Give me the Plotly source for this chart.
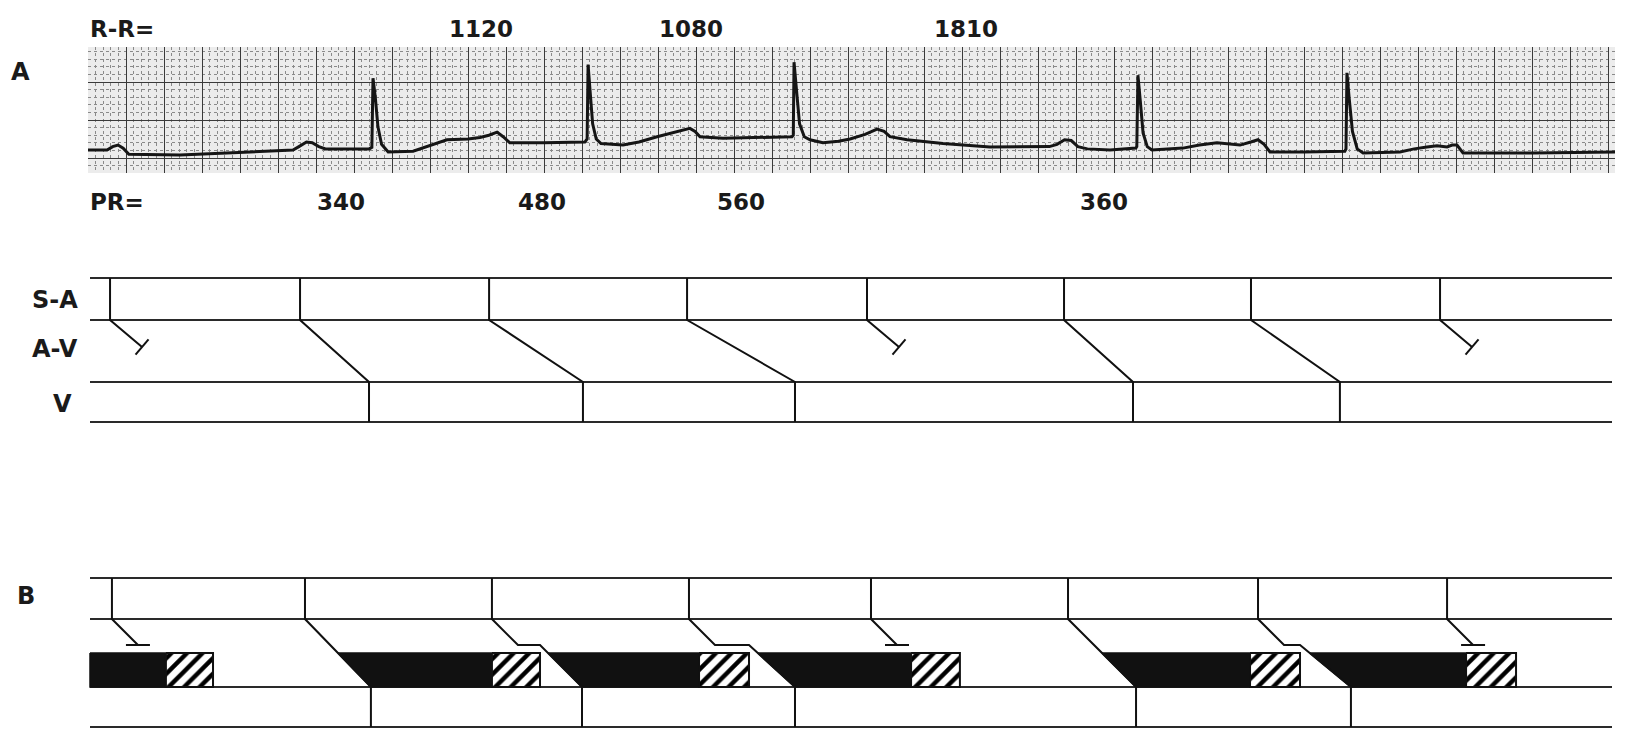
import plotly.graph_objects as go

# ---------------- data ----------------
# ECG strip: time in ms from strip start, amplitude in mV
ECG_T = [0, 100, 130, 158, 185, 215, 484, 800, 1079,
         1110, 1150, 1180, 1215, 1250, 1480,
         1494, 1500, 1512, 1526, 1545, 1580, 1711, 1800, 1889, 2000, 2063, 2110, 2153, 2185, 2220, 2400, 2615,
         2627, 2632, 2642, 2656, 2675, 2700, 2816, 2900, 2995, 3079, 3130, 3168, 3195, 3221, 3342, 3550, 3705,
         3712, 3716, 3728, 3745, 3770, 3800, 3868, 3950, 4011, 4090, 4153, 4190, 4221, 4311, 4500, 4747, 5060,
         5100, 5140, 5175, 5210, 5260, 5379, 5515,
         5520, 5526, 5538, 5553, 5575, 5600, 5763, 5850, 5942, 6000, 6063, 6120, 6158, 6190, 6221, 6400, 6615,
         6621, 6626, 6638, 6655, 6680, 6711, 6905, 6980, 7047, 7100, 7153, 7180, 7205, 7237, 7605, 8037]
ECG_MV = [0.105, 0.105, 0.15, 0.17, 0.13, 0.05, 0.04, 0.07, 0.105,
          0.15, 0.21, 0.20, 0.15, 0.12, 0.12,
          0.14, 1.05, 0.80, 0.41, 0.18, 0.08, 0.09, 0.17, 0.24, 0.25, 0.27, 0.30, 0.34, 0.28, 0.20, 0.20, 0.21,
          0.25, 1.23, 0.90, 0.45, 0.25, 0.19, 0.17, 0.21, 0.28, 0.33, 0.37, 0.39, 0.35, 0.28, 0.26, 0.27, 0.28,
          0.30, 1.26, 0.92, 0.45, 0.28, 0.24, 0.20, 0.22, 0.25, 0.31, 0.38, 0.35, 0.28, 0.24, 0.19, 0.145, 0.15,
          0.18, 0.24, 0.23, 0.15, 0.12, 0.105, 0.13,
          0.15, 1.09, 0.76, 0.33, 0.15, 0.105, 0.13, 0.17, 0.20, 0.19, 0.17, 0.21, 0.24, 0.18, 0.08, 0.08, 0.09,
          0.12, 1.12, 0.78, 0.35, 0.12, 0.066, 0.08, 0.12, 0.145, 0.16, 0.145, 0.17, 0.17, 0.066, 0.066, 0.08]

R_PEAKS_MS = [1500, 2632, 3716, 5526, 6626]
RR_LABELS = ["1120", "1080", "1810"]
PR_LABELS = ["340", "480", "560", "360"]
PR_MS = [340, 480, 560, 360]
PR_BEAT = [0, 1, 2, 3]          # which R peak each PR label belongs to

# Ladder A: sinus impulses and ventricular activation times (ms); None = blocked
SA_A = [116, 1116, 2111, 3153, 4100, 5137, 6121, 7116]
V_A = [None, 1479, 2605, 3721, None, 5500, 6589, None]

# Ladder B
SA_B = [126, 1142, 2126, 3163, 4121, 5158, 6158, 7153]
V_B = [None, 1489, 2600, 3721, None, 5516, 6647, None]
MODE_B = ["blocked", "direct", "delayed", "delayed", "blocked", "direct", "delayed", "blocked"]
ERP_END_B = [410, 2126, 3216, 4332, 6116, 7253]   # end of black (absolute refractory) bars
RRP_END_B = [658, 2379, 3479, 4589, 6379, 7516]   # end of hatched (relative refractory) bars

# ---------------- layout constants ----------------
W, H = 1628, 732
PX_PER_MS = 0.19
X0_PX = 88
MS_PER_PX = 1 / PX_PER_MS

LINE_T0 = (90 - X0_PX) * MS_PER_PX
LINE_T1 = (1612 - X0_PX) * MS_PER_PX

A_TOP, A_ATR, A_VEN, A_BOT = 278, 320, 382, 422
B_TOP, B_ATR, B_STEP, B_BLK, B_VEN, B_BOT = 578, 619, 645, 653, 687, 727

FONT = "DejaVu Sans"

fig = go.Figure()

# ---- ECG strip ----
fig.add_trace(go.Scatter(x=ECG_T, y=ECG_MV, mode="lines", xaxis="x2", yaxis="y2",
                         line=dict(color="#151515", width=3), hoverinfo="skip"))

# ---- ladder horizontal lines ----
hx, hy = [], []
for y in [A_TOP, A_ATR, A_VEN, A_BOT, B_TOP, B_ATR, B_VEN, B_BOT]:
    hx += [LINE_T0, LINE_T1, None]
    hy += [y, y, None]
fig.add_trace(go.Scatter(x=hx, y=hy, mode="lines", line=dict(color="#2a2a2a", width=2.2),
                         hoverinfo="skip"))

# ---- ladder B refractory bars ----
conducted = [i for i, v in enumerate(V_B) if v is not None]


def path_start_B(i):
    """Start point of the last (oblique) segment of the conduction path of impulse i."""
    if MODE_B[i] == "delayed":
        prev_end = max(r for r in RRP_END_B if r < V_B[i])
        return prev_end, B_STEP
    return SA_B[i], B_ATR


bx, by, sx, sy = [], [], [], []
for k in range(len(ERP_END_B)):
    if k == 0:
        left_top = left_bot = LINE_T0
    else:
        i = conducted[k - 1]
        t0, y0 = path_start_B(i)
        v = V_B[i]
        left_top = t0 + (v - t0) * (B_BLK - y0) / (B_VEN - y0)
        left_bot = v
    e, r = ERP_END_B[k], RRP_END_B[k]
    bx += [left_top, e, e, left_bot, left_top, None]
    by += [B_BLK, B_BLK, B_VEN, B_VEN, B_BLK, None]
    sx += [e, r, r, e, e, None]
    sy += [B_BLK, B_BLK, B_VEN, B_VEN, B_BLK, None]

fig.add_trace(go.Scatter(x=bx, y=by, mode="lines", fill="toself", fillcolor="#111111",
                         line=dict(color="#111111", width=1.5), hoverinfo="skip"))
fig.add_trace(go.Scatter(x=sx, y=sy, mode="lines", fill="toself", fillcolor="white",
                         fillpattern=dict(shape="/", fgcolor="#000000", bgcolor="white",
                                          fgopacity=1, size=11, solidity=0.4),
                         line=dict(color="#111111", width=2), hoverinfo="skip"))

# ---- conduction lines ----
cx, cy = [], []
# ladder A
A_BLOCK_DX = 32 * MS_PER_PX
A_BLOCK_Y = 347
A_BAR_DX, A_BAR_DY = 6.5 * MS_PER_PX, 7.6
for s, v in zip(SA_A, V_A):
    if v is not None:
        cx += [s, s, v, v, None]
        cy += [A_TOP, A_ATR, A_VEN, A_BOT, None]
    else:
        e = s + A_BLOCK_DX
        cx += [s, s, e, None, e - A_BAR_DX, e + A_BAR_DX, None]
        cy += [A_TOP, A_ATR, A_BLOCK_Y, None, A_BLOCK_Y + A_BAR_DY, A_BLOCK_Y - A_BAR_DY, None]

# ladder B
B_DIAG_DX = (B_STEP - B_ATR) * MS_PER_PX
B_BAR_HALF = 12 * MS_PER_PX
for i, s in enumerate(SA_B):
    mode = MODE_B[i]
    if mode == "blocked":
        e = s + B_DIAG_DX
        cx += [s, s, e, None, e - B_BAR_HALF, e + B_BAR_HALF, None]
        cy += [B_TOP, B_ATR, B_STEP, None, B_STEP, B_STEP, None]
    elif mode == "direct":
        v = V_B[i]
        cx += [s, s, v, v, None]
        cy += [B_TOP, B_ATR, B_VEN, B_BOT, None]
    else:
        v = V_B[i]
        t0, _ = path_start_B(i)
        cx += [s, s, s + B_DIAG_DX, t0, v, v, None]
        cy += [B_TOP, B_ATR, B_STEP, B_STEP, B_VEN, B_BOT, None]

fig.add_trace(go.Scatter(x=cx, y=cy, mode="lines", line=dict(color="#111111", width=2),
                         hoverinfo="skip"))

# ---- text ----
ann = []
lab_font = dict(family=FONT, size=23, color="#1a1a1a", weight="bold")
ann.append(dict(x=0, y=29, xref="x", yref="y", text="R-R=", showarrow=False,
                xanchor="left", yanchor="middle", font=lab_font))
for j, txt in enumerate(RR_LABELS):
    xm = (R_PEAKS_MS[j] + R_PEAKS_MS[j + 1]) / 2
    ann.append(dict(x=xm, y=29, xref="x", yref="y", text=txt, showarrow=False,
                    xanchor="center", yanchor="middle", font=lab_font))
ann.append(dict(x=0, y=202, xref="x", yref="y", text="PR=", showarrow=False,
                xanchor="left", yanchor="middle", font=lab_font))
for txt, pr, b in zip(PR_LABELS, PR_MS, PR_BEAT):
    xm = R_PEAKS_MS[b] - pr / 2
    ann.append(dict(x=xm, y=202, xref="x", yref="y", text=txt, showarrow=False,
                    xanchor="center", yanchor="middle", font=lab_font))

big_font = dict(family=FONT, size=24, color="#1a1a1a", weight="bold")
ann.append(dict(x=20 / W, y=72, xref="paper", yref="y", text="A", showarrow=False,
                xanchor="center", yanchor="middle", font=big_font))
ann.append(dict(x=26 / W, y=596, xref="paper", yref="y", text="B", showarrow=False,
                xanchor="center", yanchor="middle", font=big_font))
ann.append(dict(x=80 / W, y=300, xref="paper", yref="y", text="S-A", showarrow=False,
                xanchor="right", yanchor="middle", font=big_font))
ann.append(dict(x=80 / W, y=349, xref="paper", yref="y", text="A-V", showarrow=False,
                xanchor="right", yanchor="middle", font=big_font))
ann.append(dict(x=74 / W, y=404, xref="paper", yref="y", text="V", showarrow=False,
                xanchor="right", yanchor="middle", font=big_font))

# ---- axes ----
ecg_x0, ecg_x1 = 88, 1615
ecg_ytop, ecg_ybot = 47, 173
MV_ZERO_PX, PX_PER_MV = 158, 76

fig.update_layout(
    width=W, height=H, autosize=False,
    margin=dict(l=0, r=0, t=0, b=0),
    paper_bgcolor="white", plot_bgcolor="rgba(0,0,0,0)",
    showlegend=False,
    annotations=ann,
    xaxis=dict(domain=[0, 1], range=[(0 - X0_PX) * MS_PER_PX, (W - X0_PX) * MS_PER_PX],
               visible=False, fixedrange=True),
    yaxis=dict(domain=[0, 1], range=[H, 0], visible=False, fixedrange=True),
    xaxis2=dict(domain=[ecg_x0 / W, ecg_x1 / W], range=[0, (ecg_x1 - ecg_x0) * MS_PER_PX],
                anchor="y2", showgrid=True, tick0=0, dtick=200, gridcolor="#3a3a3a", gridwidth=1.3,
                minor=dict(tick0=0, dtick=40, showgrid=True, gridcolor="#8a8a8a", griddash="dot",
                           gridwidth=1),
                showticklabels=False, ticks="", zeroline=False, showline=False, fixedrange=True),
    yaxis2=dict(domain=[1 - ecg_ybot / H, 1 - ecg_ytop / H],
                range=[(MV_ZERO_PX - ecg_ybot) / PX_PER_MV, (MV_ZERO_PX - ecg_ytop) / PX_PER_MV],
                anchor="x2", showgrid=True, tick0=0, dtick=0.5, gridcolor="#3a3a3a", gridwidth=1.3,
                minor=dict(tick0=0, dtick=0.1, showgrid=True, gridcolor="#8a8a8a", griddash="dot",
                           gridwidth=1),
                showticklabels=False, ticks="", zeroline=False, showline=False, fixedrange=True),
    shapes=[dict(type="rect", xref="x2 domain", yref="y2 domain", x0=0, x1=1, y0=0, y1=1,
                 fillcolor="#ececec", line=dict(width=0), layer="below")],
)

fig.write_html("out.html", config={"displayModeBar": False},
               post_script="document.body.style.margin='0';document.body.style.overflow='hidden';")
